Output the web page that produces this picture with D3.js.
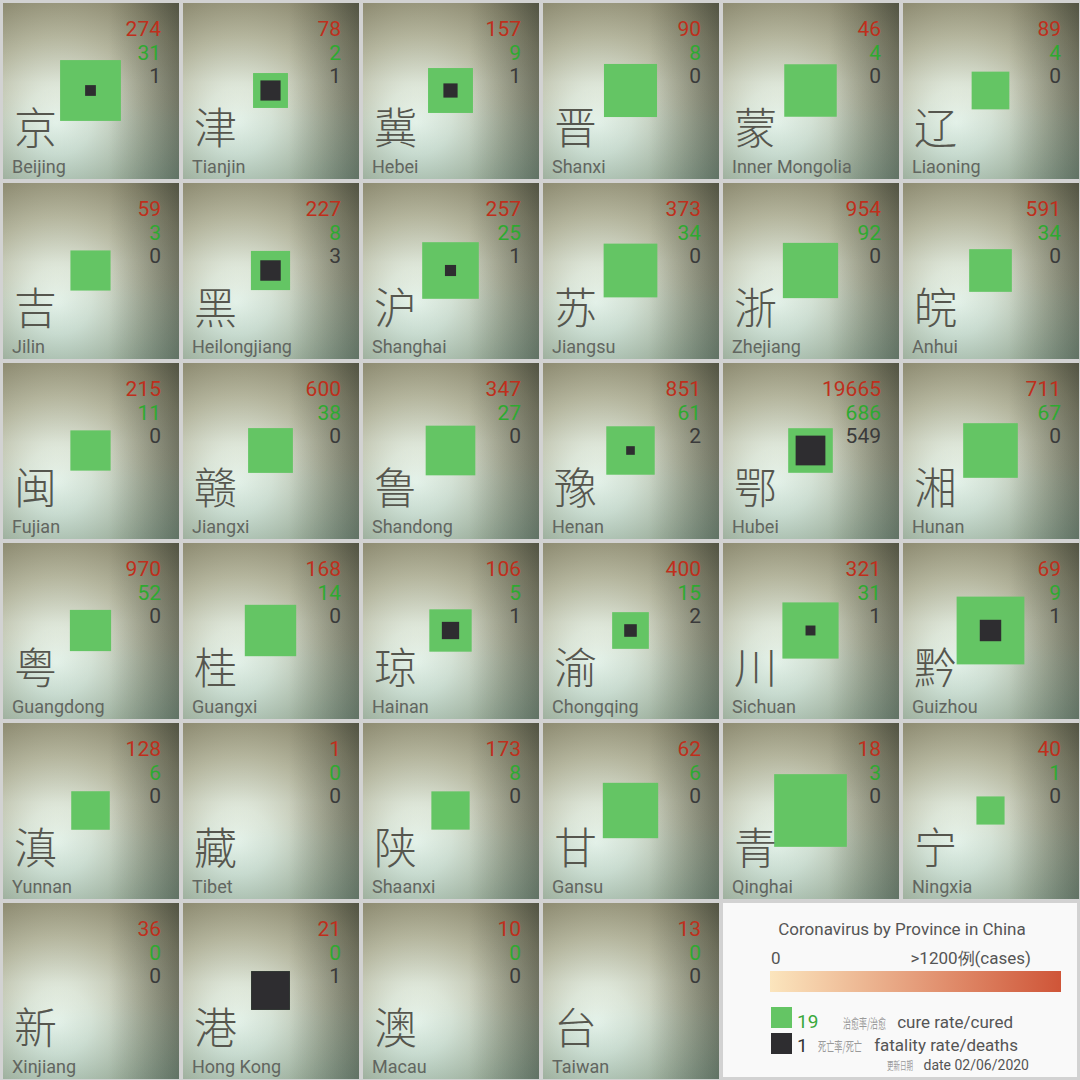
<!DOCTYPE html>
<html>
<head>
<meta charset="utf-8">
<script src="https://cdn.jsdelivr.net/npm/d3@7"></script>
<style>
  html, body { margin: 0; padding: 0; background: #d2d2d2; }
  svg { display: block; }
</style>
</head>
<body>
<div id="chart"></div>
<script>
const zhNames = ["京", "津", "冀", "晋", "蒙", "辽",
    "吉", "黑", "沪", "苏", "浙", "皖",
    "闽", "赣", "鲁", "豫", "鄂", "湘",
    "粤", "桂", "琼", "渝", "川", "黔",
    "滇", "藏", "陕", "甘", "青", "宁",
    "新", "港", "澳", "台"];
const enNames = ["Beijing", "Tianjin", "Hebei", "Shanxi", "Inner Mongolia", "Liaoning",
    "Jilin", "Heilongjiang", "Shanghai", "Jiangsu", "Zhejiang", "Anhui",
    "Fujian", "Jiangxi", "Shandong", "Henan", "Hubei", "Hunan",
    "Guangdong", "Guangxi", "Hainan", "Chongqing", "Sichuan", "Guizhou",
    "Yunnan", "Tibet", "Shaanxi", "Gansu", "Qinghai", "Ningxia",
    "Xinjiang", "Hong Kong", "Macau", "Taiwan"];
const cases = [274, 78, 157, 90, 46, 89,
    59, 227, 257, 373, 954, 591,
    215, 600, 347, 851, 19665, 711,
    970, 168, 106, 400, 321, 69,
    128, 1, 173, 62, 18, 40,
    36, 21, 10, 13];
const cured = [31, 2, 9, 8, 4, 4,
    3, 8, 25, 34, 92, 34,
    11, 38, 27, 61, 686, 67,
    52, 14, 5, 15, 31, 9,
    6, 0, 8, 6, 3, 1,
    0, 0, 0, 0];
const deaths = [1, 1, 1, 0, 0, 0,
    0, 3, 1, 0, 0, 0,
    0, 0, 0, 2, 549, 0,
    0, 0, 1, 2, 1, 1,
    0, 0, 0, 0, 0, 0,
    0, 1, 0, 0];

const W = 1080, H = 1080;
const svg = d3.select("#chart").append("svg")
    .attr("width", W).attr("height", H);

const defs = svg.append("defs");

// cell background: soft light spot lower-left, dark vignette
const rg = defs.append("radialGradient").attr("id", "spot")
    .attr("cx", 0.36).attr("cy", 0.64).attr("r", 0.95)
    .attr("fx", 0.3).attr("fy", 0.68);
[[0, "#f0f9f0"], [0.2, "#dfe8db"], [0.5, "#b8baa4"], [0.78, "#8f8e78"], [1, "#5a5c4f"]]
    .forEach(s => rg.append("stop").attr("offset", s[0]).attr("stop-color", s[1]));

const hg = defs.append("linearGradient").attr("id", "shadeR")
    .attr("x1", 0).attr("x2", 1).attr("y1", 0).attr("y2", 0);
hg.append("stop").attr("offset", 0).attr("stop-color", "#141e19").attr("stop-opacity", 0);
hg.append("stop").attr("offset", 0.6).attr("stop-color", "#141e19").attr("stop-opacity", 0);
hg.append("stop").attr("offset", 1).attr("stop-color", "#141e19").attr("stop-opacity", 0.3);

const vg = defs.append("linearGradient").attr("id", "tint")
    .attr("x1", 0).attr("x2", 0).attr("y1", 0).attr("y2", 1);
vg.append("stop").attr("offset", 0).attr("stop-color", "#7a6a36").attr("stop-opacity", 0.12);
vg.append("stop").attr("offset", 0.45).attr("stop-color", "#7a6a36").attr("stop-opacity", 0);
vg.append("stop").attr("offset", 0.65).attr("stop-color", "#3a8a86").attr("stop-opacity", 0.06);
vg.append("stop").attr("offset", 1).attr("stop-color", "#3a8a86").attr("stop-opacity", 0.2);

// grid
const col = d3.scaleBand().domain(d3.range(6)).range([0, W]);
const row = d3.scaleBand().domain(d3.range(6)).range([0, H]);
const side = d3.scaleSqrt().domain([0, 1]).range([0, 178]);

const data = zhNames.map((zh, i) => ({
    zh, en: enNames[i], cases: cases[i], cured: cured[i], deaths: deaths[i],
    c: i % 6, r: Math.floor(i / 6)
}));

const cell = svg.selectAll(".cell")
    .data(data)
    .enter().append("g")
    .attr("class", "cell")
    .attr("transform", d => `translate(${col(d.c)},${row(d.r)})`);

["url(#spot)", "url(#shadeR)", "url(#tint)"].forEach(f => {
    cell.append("rect")
        .attr("x", 3).attr("y", 3)
        .attr("width", col.bandwidth() - 4).attr("height", row.bandwidth() - 4)
        .attr("fill", f);
});

// cured + deaths square (green), deaths square (dark)
cell.append("rect")
    .attr("fill", "#64c564")
    .each(function(d) {
        const s = side((d.cured + d.deaths) / d.cases);
        d3.select(this).attr("x", 90.5 - s / 2).attr("y", 90.5 - s / 2)
            .attr("width", s).attr("height", s);
    });

cell.append("rect")
    .attr("fill", "#2e2d30")
    .each(function(d) {
        const s = side(d.deaths / d.cases);
        d3.select(this).attr("x", 90.5 - s / 2).attr("y", 90.5 - s / 2)
            .attr("width", s).attr("height", s);
    });

// numbers
const numFont = "Roboto, 'Noto Sans', sans-serif";
[["cases", "#bf2f1c", 36], ["cured", "#2eaa30", 60], ["deaths", "#3a3a3a", 83]].forEach(([k, color, y]) => {
    cell.append("text")
        .attr("x", 161).attr("y", y)
        .attr("text-anchor", "end")
        .style("font-family", numFont)
        .style("font-size", "21px")
        .attr("fill", color)
        .text(d => d[k]);
});

cell.append("text")
    .attr("x", 14).attr("y", 144)
    .style("font-family", "'Noto Sans CJK SC'")
    .style("font-size", "43px")
    .style("font-weight", 300)
    .attr("fill", "#56564e")
    .text(d => d.zh);

cell.append("text")
    .attr("x", 12).attr("y", 173)
    .style("font-family", numFont)
    .style("font-size", "18px")
    .attr("fill", "#626660")
    .text(d => d.en);

// legend panel
const lg = svg.append("g");
lg.append("rect")
    .attr("x", col(4) + 3).attr("y", row(5) + 3)
    .attr("width", col.bandwidth() * 2 - 6).attr("height", row.bandwidth() - 6)
    .attr("fill", "#f9f9f9");

lg.append("text")
    .attr("x", 902).attr("y", 935)
    .attr("text-anchor", "middle")
    .style("font-family", numFont).style("font-size", "17px")
    .attr("fill", "#555")
    .text("Coronavirus by Province in China");

const colorScale = d3.scaleLinear().domain([0, 1200]).range(["#fbe5bd", "#cf5538"]);
const cg = defs.append("linearGradient").attr("id", "cases-grad");
colorScale.ticks(6).forEach(t => {
    cg.append("stop").attr("offset", t / 1200).attr("stop-color", colorScale(t));
});
const barX = d3.scaleLinear().domain([0, 1200]).range([770, 1061]);
lg.append("rect")
    .attr("x", barX(0)).attr("y", 971)
    .attr("width", barX(1200) - barX(0)).attr("height", 21)
    .attr("fill", "url(#cases-grad)");

lg.append("text")
    .attr("x", barX(0) + 1).attr("y", 964)
    .style("font-family", numFont).style("font-size", "17px")
    .attr("fill", "#555").text("0");
lg.append("text")
    .attr("x", 1031).attr("y", 964).attr("text-anchor", "end")
    .style("font-family", numFont).style("font-size", "17px")
    .attr("fill", "#555").text(">1200例(cases)");

lg.append("rect").attr("x", 771).attr("y", 1007).attr("width", 21).attr("height", 21).attr("fill", "#64c564");
lg.append("rect").attr("x", 771).attr("y", 1033).attr("width", 21).attr("height", 21).attr("fill", "#2e2d30");

lg.append("text").attr("x", 797).attr("y", 1028)
    .style("font-family", numFont).style("font-size", "19px")
    .attr("fill", "#3aa83a").text("19");
lg.append("text").attr("x", 797).attr("y", 1052)
    .style("font-family", numFont).style("font-size", "19px")
    .attr("fill", "#333").text("1");

// legend lines: Chinese label squeezed horizontally into its slot, English label ending at x1
function legendLine(zx0, zx1, x1, y, zh, en, size, zhSize) {
    const t = lg.append("text").attr("x", 0).attr("y", 0)
        .style("font-family", "'Noto Sans CJK SC'").style("font-size", zhSize + "px")
        .attr("fill", "#9a9a9a").text(zh);
    const sx = (zx1 - zx0) / t.node().getComputedTextLength();
    t.attr("transform", `translate(${zx0},${y}) scale(${sx},1)`);
    lg.append("text").attr("x", x1).attr("y", y).attr("text-anchor", "end")
        .style("font-family", numFont).style("font-size", size + "px")
        .attr("fill", "#555").text(en);
}
legendLine(843, 886, 1013, 1028, "治愈率/治愈", "cure rate/cured", 17, 13);
legendLine(818, 862, 1018, 1051, "死亡率/死亡", "fatality rate/deaths", 17, 13);
legendLine(887, 913, 1029, 1070, "更新日期", "date 02/06/2020", 14, 11);
</script>
</body>
</html>
